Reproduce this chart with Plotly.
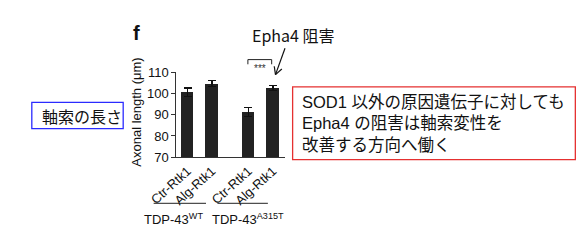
import numpy as np
import plotly.graph_objects as go

# ---- data ----
categories = ["Ctr-Rtk1", "Alg-Rtk1", "Ctr-Rtk1", "Alg-Rtk1"]
group_index = [0, 0, 1, 1]
values = [100.5, 104.6, 91.2, 102.4]
errors = [2.0, 1.3, 2.2, 1.2]
groups = ["TDP-43<sup>WT</sup>", "TDP-43<sup>A315T</sup>"]
y_ticks = [70, 80, 90, 100, 110]
y_title = "Axonal length (μm)"
sig_label = "***"
panel_label = "f"
arrow_label = "Epha4 阻害"
left_box_text = "軸索の長さ"
right_box_lines = ["SOD1 以外の原因遺伝子に対しても",
                   "Epha4 の阻害は軸索変性を",
                   "改善する方向へ働く"]

W, H = 582, 247
def px(x): return x / W
def py(y): return (H - y) / H

# bar positions: within-group index plus group gap
xpos = []
counter = {}
for g in group_index:
    k = counter.get(g, 0)
    counter[g] = k + 1
    xpos.append(g * 2.48 + k)

fig = go.Figure()
fig.add_trace(go.Bar(
    x=xpos, y=values, width=0.5,
    marker=dict(color="#222222", line=dict(width=0)),
    error_y=dict(type="data", array=errors, visible=True,
                 color="#111111", thickness=1.2, width=4),
    showlegend=False,
))

CJK = "Noto Sans CJK JP"
MIX = "Liberation Sans, Noto Sans CJK JP"
shapes = []
annotations = []

# group underlines and labels
for (x0, x1), lab, cx in zip([(132, 187), (199, 252)], groups, [153, 231]):
    shapes.append(dict(type="line", xref="paper", yref="paper",
                       x0=px(x0), x1=px(x1), y0=py(209), y1=py(209),
                       line=dict(color="#222", width=1)))
    annotations.append(dict(text=lab, xref="paper", yref="paper",
                            x=px(cx), y=py(226), xanchor="center", yanchor="middle",
                            showarrow=False, font=dict(family="Arial", size=13, color="#111")))

# y-axis title
annotations.append(dict(text=y_title, xref="paper", yref="paper", x=px(114), y=py(112),
                        textangle=-90, showarrow=False, xanchor="center", yanchor="middle",
                        font=dict(family="Arial", size=13, color="#111")))

# panel label
annotations.append(dict(text="<b>" + panel_label + "</b>", xref="paper", yref="paper",
                        x=px(114), y=py(28), showarrow=False, xanchor="center", yanchor="middle",
                        font=dict(family="Arial", size=20, color="#111")))

# significance bracket
shapes.append(dict(type="path", xref="paper", yref="paper",
                   path=f"M {px(231)} {py(61)} L {px(231)} {py(56)} L {px(256)} {py(56)} L {px(256)} {py(61)}",
                   line=dict(color="#222", width=1)))
annotations.append(dict(text=sig_label, xref="paper", yref="paper", x=px(243.5), y=py(66),
                        showarrow=False, xanchor="center", yanchor="middle",
                        font=dict(family="Arial", size=10, color="#333")))

# Epha4 label + arrow
annotations.append(dict(text=arrow_label, xref="paper", yref="paper", x=px(233), y=py(30),
                        showarrow=False, xanchor="left", yanchor="middle",
                        font=dict(family=CJK, size=16, color="#111")))
tail = np.array([270.0, 44.0])
head = np.array([260.0, 72.0])
shapes.append(dict(type="line", xref="paper", yref="paper",
                   x0=px(tail[0]), y0=py(tail[1]), x1=px(head[0]), y1=py(head[1]),
                   line=dict(color="#111", width=1.2)))
back = (tail - head) / np.linalg.norm(tail - head)
for ang in (np.deg2rad(28), np.deg2rad(-28)):
    rot = np.array([[np.cos(ang), -np.sin(ang)], [np.sin(ang), np.cos(ang)]])
    p = head + rot @ back * 9
    shapes.append(dict(type="line", xref="paper", yref="paper",
                       x0=px(head[0]), y0=py(head[1]), x1=px(p[0]), y1=py(p[1]),
                       line=dict(color="#111", width=1.2)))

# left blue box
shapes.append(dict(type="rect", xref="paper", yref="paper",
                   x0=px(4), x1=px(100), y0=py(129.5), y1=py(101.5),
                   line=dict(color="#2b2bff", width=1.3), fillcolor="rgba(0,0,0,0)"))
annotations.append(dict(text=left_box_text, xref="paper", yref="paper", x=px(12.5), y=py(116.5),
                        showarrow=False, xanchor="left", yanchor="middle",
                        font=dict(family=CJK, size=16, color="#111")))

# right red box
shapes.append(dict(type="rect", xref="paper", yref="paper",
                   x0=px(278), x1=px(575), y0=py(162.5), y1=py(85),
                   line=dict(color="#e53030", width=1.3), fillcolor="rgba(0,0,0,0)"))
annotations.append(dict(text="<br>".join(right_box_lines), xref="paper", yref="paper",
                        x=px(286), y=py(124.5), align="left",
                        showarrow=False, xanchor="left", yanchor="middle",
                        font=dict(family=MIX, size=16.5, color="#111")))

fig.update_layout(
    width=W, height=H, margin=dict(l=0, r=0, t=0, b=0),
    paper_bgcolor="white", plot_bgcolor="white",
    shapes=shapes, annotations=annotations, bargap=0,
    xaxis=dict(domain=[px(156), px(270)], range=[-0.45, 3.97],
               tickvals=xpos, ticktext=categories, tickangle=-42,
               showline=True, linecolor="#333", linewidth=1.2,
               ticks="", showgrid=False, zeroline=False,
               tickfont=dict(family="Arial", size=13, color="#111")),
    yaxis=dict(domain=[py(160), py(69.3)], range=[70, 110],
               tickvals=y_ticks, ticks="outside", ticklen=4, tickwidth=1.2, tickcolor="#333",
               showline=True, linecolor="#333", linewidth=1.2,
               showgrid=False, zeroline=False,
               tickfont=dict(family="Arial", size=13, color="#111")),
)

fig.write_html("out.html")
